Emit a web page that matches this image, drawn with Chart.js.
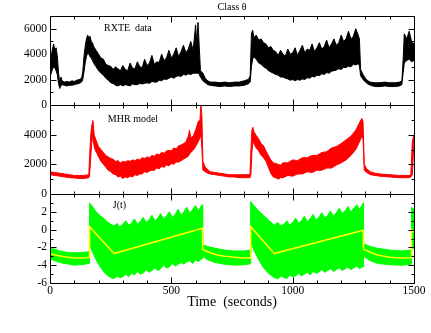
<!DOCTYPE html>
<html>
<head>
<meta charset="utf-8">
<script src="https://cdn.jsdelivr.net/npm/chart.js@4.4.0/dist/chart.umd.min.js"></script>
<style>
    html, body { margin: 0; padding: 0; background: #fff; }
    #wrap { position: relative; width: 431px; height: 333px; }
    #wrap canvas { position: absolute; left: 0; top: 0; }
</style>
</head>
<body>
<div id="wrap">
    <canvas id="rxte" width="431" height="333"></canvas>
    <canvas id="mhr" width="431" height="333"></canvas>
    <canvas id="jt" width="431" height="333"></canvas>
</div>
<script>
// tick labels
var timeTicks = [0, 500, 1000, 1500];
var rxteTicks = [0, 2000, 4000, 6000];
var mhrTicks = [0, 2000, 4000];
var jTicks = [-6, -4, -2, 0, 2];

// RXTE data (counts/s), upper and lower edge of the noisy band
var rxteTime = [0,5,10,15,20,25,30,35,40,45,
    50,60,70,80,90,100,110,120,130,135,
    140,145,150,155,160,165,170,175,180,190,
    200,210,220,230,240,250,260,270,280,290,
    300,310,320,330,340,350,360,370,380,390,
    400,410,420,430,440,450,460,470,480,490,
    500,510,520,530,540,550,560,570,580,590,
    600,605,610,615,620,630,640,650,660,680,
    700,720,740,760,780,800,815,820,825,830,
    835,840,850,860,870,880,890,900,910,920,
    930,940,950,960,970,980,990,1000,1010,1020,
    1030,1040,1050,1060,1070,1080,1090,1100,1110,1120,
    1130,1140,1150,1160,1170,1180,1190,1200,1210,1220,
    1230,1240,1250,1260,1270,1275,1280,1290,1300,1310,
    1320,1340,1360,1380,1400,1420,1440,1450,1455,1460,
    1470,1480,1490,1500];
var rxteUpper = [2600,3800,4400,4800,4300,4500,3900,2600,1700,2200,
    1900,1800,1850,1800,1900,1850,1950,2000,2100,2600,
    3800,4600,5200,5500,5300,5400,5000,4900,4600,4300,
    4000,3700,3600,3200,3100,3050,2800,3000,2850,2700,
    3100,2800,2700,3300,2900,2850,3400,3000,2950,3600,
    3100,3300,3900,3200,3400,3350,4000,3500,3700,4300,
    3700,4000,4500,3800,4200,4700,4100,4400,5000,4300,
    6300,4800,6500,4600,2700,2500,2100,1900,1800,1800,
    1750,1800,1750,1800,1800,1900,2000,2100,2300,5600,
    5900,5300,5500,5100,5200,4900,4800,4500,4600,4300,
    4200,3900,4300,4000,3850,4400,4000,4100,4500,3900,
    4300,4700,4100,4400,4300,4800,4200,4500,4900,4400,
    4600,5100,4500,4800,5200,4700,4900,5500,5000,5200,
    5800,5200,5400,6000,5500,5200,2800,2400,2100,1900,
    1800,1750,1750,1800,1750,1750,1800,1900,3500,5600,
    5200,5800,5000,4800];
var rxteLower = [2200,2500,2800,3000,2900,2700,2400,1700,1300,1500,
    1600,1550,1500,1550,1550,1600,1650,1700,1800,2000,
    2600,3300,3800,4100,4000,3800,3700,3500,3300,3000,
    2700,2500,2350,2100,1950,1750,1700,1550,1500,1600,
    1500,1600,1550,1500,1650,1600,1600,1700,1650,1700,
    1750,1700,1850,1800,1800,1950,1900,2050,2000,2100,
    2200,2100,2250,2300,2250,2400,2350,2450,2400,2500,
    2500,2500,2500,2400,2200,1900,1750,1600,1550,1500,
    1450,1500,1450,1500,1500,1550,1650,1700,1800,3000,
    3600,3800,3600,3300,3200,3000,2900,2700,2600,2500,
    2400,2350,2200,2200,2100,2050,1950,2000,1900,2000,
    1950,2050,2000,2150,2100,2250,2200,2350,2300,2450,
    2400,2550,2500,2650,2700,2750,2850,2800,2950,2950,
    3050,3000,3200,3150,3250,3100,2300,2000,1800,1650,
    1550,1450,1450,1500,1450,1450,1500,1600,2500,3300,
    3500,3600,3400,3500];

// MHR model
var mhrTime = [0,20,40,60,80,100,120,140,160,163,
    168,172,177,182,188,195,200,210,220,230,
    240,250,260,270,280,290,300,310,320,330,
    340,350,360,370,380,390,400,410,420,430,
    440,450,460,470,480,490,500,510,520,530,
    540,550,560,570,575,580,590,600,610,618,
    622,626,630,640,650,660,680,700,720,740,
    760,780,800,824,828,832,836,840,850,860,
    870,880,890,900,910,920,930,940,950,960,
    980,1000,1020,1040,1060,1080,1100,1120,1140,1160,
    1180,1200,1220,1240,1260,1275,1285,1290,1295,1305,
    1320,1340,1360,1400,1440,1480,1487,1493,1500];
var mhrUpper = [1500,1450,1400,1350,1300,1250,1250,1250,1300,2500,
    4000,4600,4950,4000,3700,3400,3200,3000,2800,2600,
    2500,2400,2350,2200,2250,2100,2200,2150,2250,2200,
    2300,2250,2350,2300,2450,2400,2500,2450,2600,2550,
    2700,2650,2800,2750,2900,2950,2900,3100,3050,3250,
    3300,3400,3500,3900,4300,3800,3900,4300,4850,5000,
    6100,5200,2200,1800,1650,1500,1450,1400,1350,1300,
    1300,1300,1300,1300,3000,4300,4500,4200,3950,3700,
    3400,3250,2900,2600,2300,2100,2050,2000,1950,2100,
    2100,2300,2250,2450,2450,2600,2600,2800,2850,3100,
    3200,3400,3650,3900,4300,4800,5100,4900,2000,1700,
    1500,1400,1350,1300,1250,1250,1300,3500,4000];
var mhrLower = [1300,1250,1200,1150,1100,1080,1050,1050,1100,1200,
    2500,3500,3800,3200,2900,2700,2500,2200,2000,1800,
    1600,1500,1350,1300,1150,1200,1050,1150,1100,1200,
    1150,1300,1250,1350,1350,1500,1450,1550,1600,1600,
    1750,1700,1850,1800,1950,1900,2050,2000,2150,2150,
    2250,2350,2450,2550,2700,2800,2950,3200,3500,3800,
    4000,3000,1600,1500,1400,1350,1300,1250,1200,1150,
    1150,1100,1100,1100,1300,2800,3500,3400,3100,2900,
    2600,2450,2200,1800,1400,1150,1100,1000,1100,1100,
    1250,1200,1350,1350,1500,1450,1600,1600,1750,1750,
    1950,2100,2300,2600,3000,3500,3900,3700,1600,1450,
    1300,1250,1200,1150,1100,1100,1150,1300,3500];

// J(t): noisy drive (green band) and its mean (yellow)
var jTime = [0,20,40,60,80,100,120,140,162,163,
    175,190,205,220,235,250,264,276,288,300,
    312,324,336,348,360,372,384,396,408,420,
    432,444,456,468,480,492,504,516,528,540,
    552,564,576,588,600,612,622,628,629,650,
    680,720,760,800,826,827,840,860,880,900,
    924,940,952,964,976,988,1000,1012,1024,1036,
    1048,1060,1072,1084,1096,1108,1120,1132,1144,1156,
    1168,1180,1192,1204,1216,1228,1240,1252,1264,1276,
    1285,1291,1292,1320,1350,1400,1450,1489,1490,1500];
var jUpper = [-2.1,-2.2,-2.4,-2.5,-2.6,-2.6,-2.6,-2.55,-2.5,3.0,
    2.6,2.0,1.6,1.3,0.9,0.6,0.4,0.7,0.3,0.6,
    1.0,0.5,0.7,1.2,0.6,0.9,1.4,0.8,1.1,1.6,
    1.0,1.3,1.8,1.2,1.5,2.0,1.4,1.7,2.3,1.6,
    2.0,2.5,1.8,2.3,2.7,2.1,2.6,2.8,-1.7,-1.9,
    -2.1,-2.3,-2.4,-2.4,-2.3,3.15,2.7,2.1,1.6,1.1,
    0.5,0.8,0.4,0.6,1.0,0.5,0.8,1.3,0.7,1.0,
    1.5,0.9,1.2,1.7,1.1,1.4,1.9,1.3,1.6,2.1,
    1.5,1.9,2.4,1.8,2.1,2.6,2.0,2.4,2.8,2.3,
    2.7,3.0,-1.6,-1.9,-2.1,-2.3,-2.4,-2.3,2.5,2.3];
var jLower = [-3.3,-3.5,-3.7,-3.8,-3.9,-4.0,-3.95,-3.9,-3.8,-1.7,
    -2.5,-3.4,-4.1,-4.7,-5.1,-5.4,-5.5,-5.2,-5.4,-5.3,
    -5.0,-5.3,-4.9,-5.1,-4.7,-5.0,-4.9,-4.5,-4.8,-4.6,
    -4.3,-4.6,-4.4,-4.0,-4.3,-4.2,-3.8,-4.1,-3.9,-3.7,
    -3.9,-3.6,-3.5,-3.8,-3.4,-3.6,-3.3,-3.3,-3.0,-3.4,
    -3.7,-3.9,-4.0,-3.95,-3.85,-1.4,-2.3,-3.4,-4.3,-4.9,
    -5.4,-5.5,-5.2,-5.4,-5.5,-5.1,-5.3,-5.2,-4.9,-5.2,
    -5.0,-4.8,-5.1,-4.7,-4.9,-4.8,-4.5,-4.8,-4.6,-4.4,
    -4.7,-4.5,-4.3,-4.6,-4.4,-4.2,-4.5,-4.3,-4.1,-4.4,
    -4.2,-4.2,-3.0,-3.5,-3.8,-3.95,-4.0,-3.9,-2.0,-2.2];
var meanTime = [0,30,60,90,120,150,162,163,264,628,629,660,690,720,760,800,826,827,924,1291,1292,1320,1350,1400,1450,1489,1490,1500];
var meanJ = [-2.7,-2.9,-3.05,-3.15,-3.2,-3.15,-3.1,0.33,-2.69,0.14,-2.24,-2.6,-2.85,-3.0,-3.12,-3.18,-3.18,0.33,-2.69,-0.07,-2.19,-2.55,-2.85,-3.1,-3.18,-3.15,-0.05,-0.3];

var PLOT_LEFT = 50, PLOT_RIGHT = 414;
var FONT = '"Liberation Serif", "Times New Roman", serif';

Chart.defaults.font.family = FONT;
Chart.defaults.color = '#000';

function points(ts, vs) {
    return ts.map(function(t, i) { return { x: t, y: vs[i] }; });
}

function band(ts, lo, hi, color) {
    return [
        { data: points(ts, lo), borderColor: color, borderWidth: 1, fill: false },
        { data: points(ts, hi), borderColor: color, borderWidth: 1, backgroundColor: color, fill: '-1' }
    ];
}

function fixedTicks(values) {
    return function(scale) {
        scale.ticks = values.map(function(v) { return { value: v }; });
    };
}

// frame with inward ticks on all four sides, plus the panel caption
var framePlugin = {
    id: 'frame',
    afterDatasetsDraw: function(chart, args, o) {
        var ctx = chart.ctx, a = chart.chartArea;
        var x = chart.scales.x, y = chart.scales.y;
        var l = Math.round(a.left) + 0.5, r = Math.round(a.right) + 0.5;
        var t = Math.round(a.top) + 0.5, b = Math.round(a.bottom) + 0.5;
        ctx.save();
        ctx.strokeStyle = '#000';
        ctx.lineWidth = 1;
        ctx.beginPath();
        ctx.rect(l, t, r - l, b - t);

        for (var v = 0; v <= 1500; v += 100) {
            var px = Math.round(x.getPixelForValue(v)) + 0.5;
            var len = v % 500 === 0 ? 6 : 3;
            ctx.moveTo(px, b); ctx.lineTo(px, b - len);
            ctx.moveTo(px, t); ctx.lineTo(px, t + len);
        }
        for (var w = o.yFrom; w <= o.yTo + 1e-9; w += o.yMinor) {
            var py = Math.round(y.getPixelForValue(w)) + 0.5;
            var major = Math.abs(Math.round(w / o.yMajor) * o.yMajor - w) < 1e-6;
            var ln = major ? 6 : 3;
            ctx.moveTo(l, py); ctx.lineTo(l + ln, py);
            ctx.moveTo(r, py); ctx.lineTo(r - ln, py);
        }
        ctx.stroke();

        ctx.fillStyle = '#000';
        ctx.font = '10px ' + FONT;
        ctx.textAlign = 'center';
        ctx.textBaseline = 'middle';
        ctx.fillText(o.label, x.getPixelForValue(o.labelAt[0]), y.getPixelForValue(o.labelAt[1]));
        if (o.title) {
            ctx.fillText(o.title, (a.left + a.right) / 2, 7);
        }
        ctx.restore();
    }
};

function panel(id, top, bottom, datasets, yScale, frame, showX) {
    var xScale = {
        type: 'linear', min: 0, max: 1500, display: showX,
        afterBuildTicks: fixedTicks(timeTicks),
        grid: { display: false, drawTicks: false },
        border: { display: false },
        ticks: {
            maxRotation: 0, autoSkip: false, padding: 1, font: { size: 11.5 },
            callback: function(v) { return String(v); }
        }
    };
    if (showX) {
        xScale.title = {
            display: true, text: 'Time  (seconds)',
            font: { size: 14 }, padding: { top: 0, bottom: 12 }
        };
        xScale.afterFit = function(s) { s.height = 40; };
    }
    yScale.grid = { display: false, drawTicks: false };
    yScale.border = { display: false };
    yScale.afterFit = function(s) { s.width = PLOT_LEFT; };
    yScale.ticks = {
        padding: 3, font: { size: 11.5 },
        callback: function(v) { return String(v); }
    };

    return new Chart(document.getElementById(id), {
        type: 'line',
        data: { datasets: datasets },
        options: {
            responsive: false,
            animation: false,
            layout: { padding: { left: 0, right: 431 - PLOT_RIGHT, top: top, bottom: showX ? 10 : 333 - bottom } },
            elements: { point: { radius: 0 }, line: { tension: 0 } },
            plugins: { legend: { display: false }, tooltip: { enabled: false }, frame: frame },
            scales: { x: xScale, y: yScale }
        },
        plugins: [framePlugin]
    });
}

panel('rxte', 16, 105, band(rxteTime, rxteLower, rxteUpper, '#000000'),
    { min: 0, max: 7000, afterBuildTicks: fixedTicks(rxteTicks) },
    { label: 'RXTE  data', labelAt: [321, 6000], yFrom: 0, yTo: 7000, yMinor: 1000, yMajor: 2000, title: 'Class \u03b8' },
    false);

panel('mhr', 105, 194, band(mhrTime, mhrLower, mhrUpper, '#ff0000'),
    { min: 0, max: 6000, afterBuildTicks: fixedTicks(mhrTicks) },
    { label: 'MHR model', labelAt: [342, 5050], yFrom: 0, yTo: 6000, yMinor: 1000, yMajor: 2000 },
    false);

panel('jt', 194, 283,
    [{ data: points(meanTime, meanJ), borderColor: '#ffff00', borderWidth: 1.5, fill: false }]
        .concat(band(jTime, jLower, jUpper, '#00ff00')),
    { min: -6, max: 4, afterBuildTicks: fixedTicks(jTicks) },
    { label: 'J(t)', labelAt: [286, 2.7], yFrom: -6, yTo: 4, yMinor: 1, yMajor: 2 },
    true);
</script>
</body>
</html>
